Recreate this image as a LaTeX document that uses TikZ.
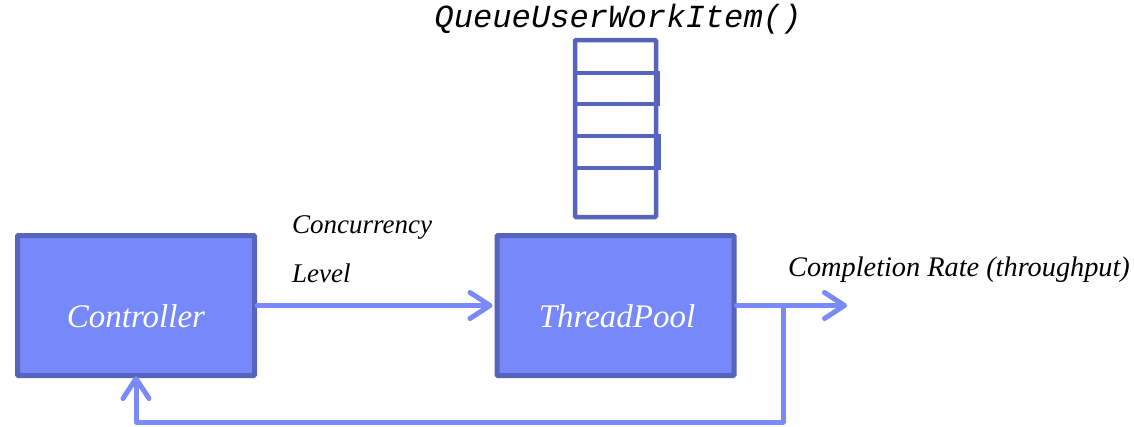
\documentclass[tikz,border=0pt]{standalone}
\usepackage{fontspec}
\setmainfont{Liberation Serif}
\newfontfamily\codefont{Liberation Mono}
\usetikzlibrary{arrows.meta}
\definecolor{boxfill}{RGB}{119,137,250}
\definecolor{boxedge}{RGB}{86,100,190}
\definecolor{wire}{RGB}{122,139,249}
\tikzset{
  block/.style={draw=boxedge, fill=boxfill, line width=5pt, rounded corners=1pt,
    minimum width=237pt, minimum height=140pt, inner sep=0pt},
  blocktext/.style={text=white, font=\fontsize{33}{36}\selectfont\itshape, inner sep=0pt},
  cell/.style={draw=boxedge, line width=4.5pt, line cap=square},
  wireline/.style={draw=wire, line width=5pt, line cap=round, line join=round},
  tip/.style={-{Straight Barb[length=20pt, width=26pt, line cap=round, line join=round]}},
  lbl/.style={font=\fontsize{27}{30}\selectfont\itshape, inner sep=0pt, text=black}
}
\begin{document}
\begin{tikzpicture}[x=1pt, y=-1pt]
\useasboundingbox (0,0) rectangle (1134,426);

% work queue above the pool
\draw[cell, rounded corners=1pt] (575,40) rectangle (656,217);
\draw[cell] (575,73) -- (658,73) -- (658,104) -- (575,104);
\draw[cell] (575,136) -- (659,136) -- (659,168) -- (575,168);
\node[font=\fontsize{32.2}{35}\selectfont\codefont\itshape, inner sep=0pt] (qtext) at (618,19) {QueueUserWorkItem()};

% main blocks
\node[block] (ctrl) at (136,305.5) {};
\node[block] (pool) at (615.5,305.5) {};
\node[blocktext] (ctrltext) at (136,316) {Controller};
\node[blocktext] (pooltext) at (617,316) {ThreadPool};

% concurrency level
\draw[wireline, tip] (ctrl.east) -- ([xshift=-2pt]pool.west);
\node[lbl, anchor=west] (conc) at (292,227) {Concurrency};
\node[lbl, anchor=west] (lev) at (292,273) {Level};

% output and feedback
\coordinate (out) at (847,305.5);
\coordinate (split) at (783,305.5);
\coordinate (low) at (783,422);
\draw[wireline, tip] (pool.east) -- (out);
\draw[wireline, tip] (split) -- (low) -- (low -| ctrl) -- ([yshift=2pt]ctrl.south);
\node[lbl, font=\fontsize{28.3}{31}\selectfont\itshape, anchor=west] (rate) at (788,270) {Completion Rate (throughput)};
\end{tikzpicture}
\end{document}
